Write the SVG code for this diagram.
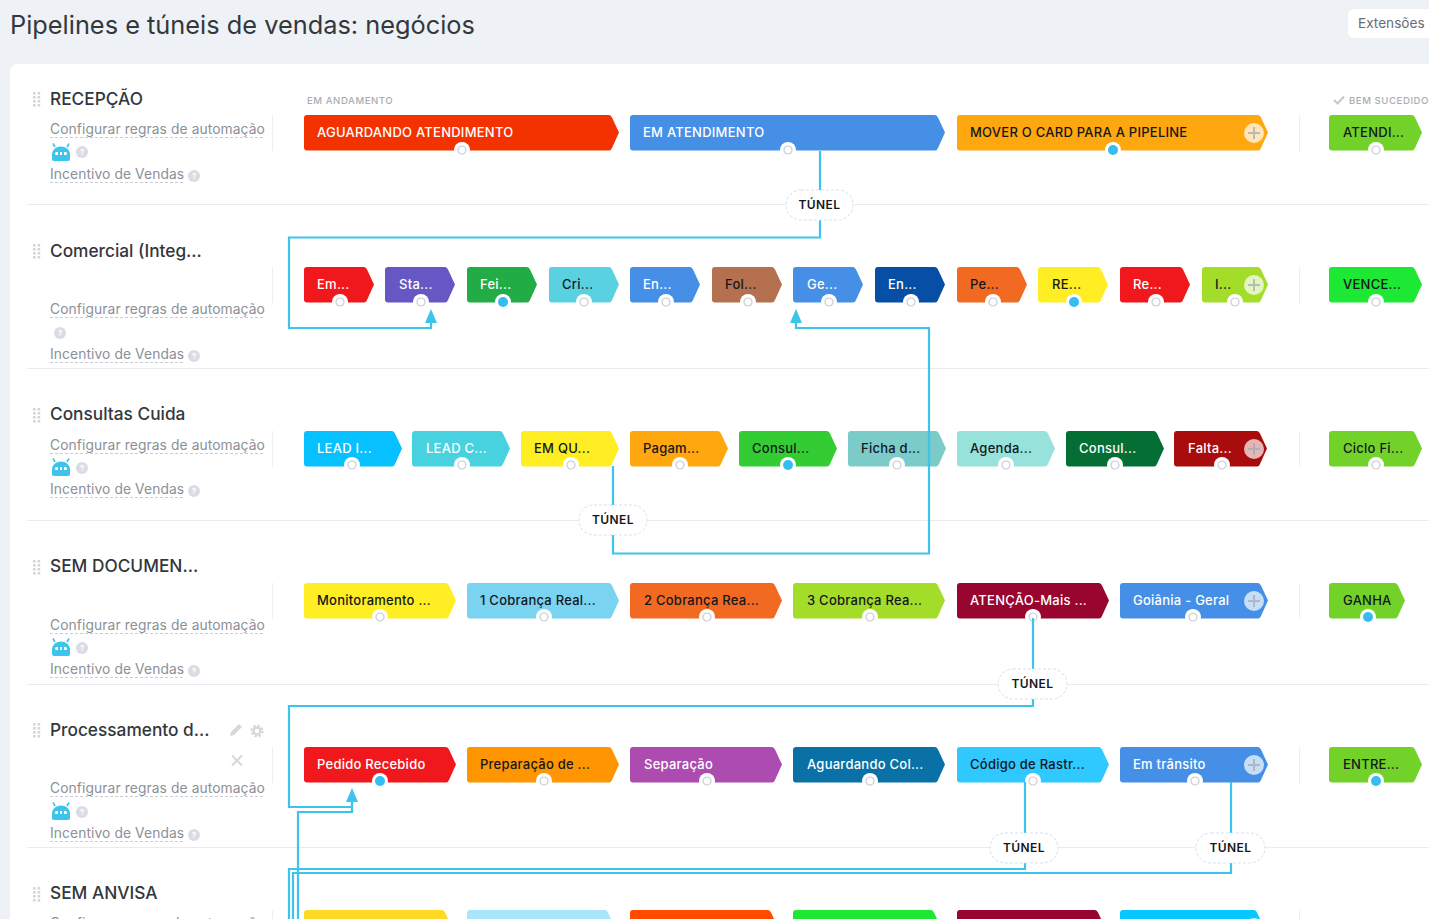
<svg xmlns="http://www.w3.org/2000/svg" width="1429" height="919" viewBox="0 0 1429 919">
<style>
text{font-family:Inter,"Noto Sans","Liberation Sans",sans-serif}
.h1{font-size:25.35px;fill:#33383d}
.t{font-size:17.3px;font-weight:500;fill:#33373c}
.l{font-size:13.8px;fill:#8b9097;letter-spacing:.1px}
.u{stroke:#c9ccd2;stroke-width:1;stroke-dasharray:3 2;fill:none}
.s{font-size:13px;font-weight:500;letter-spacing:.25px}
.w{fill:#fff}.d{fill:#14181c}
.hd{font-size:9.6px;font-weight:500;fill:#a9acb2;letter-spacing:.55px}
.sep{stroke:#e9ebee;stroke-width:1}
.v{stroke:#eceef0;stroke-width:1}
.c{fill:none;stroke:#3dc3ec;stroke-width:2.2}
.a{fill:#3dc3ec}
.p{fill:#fff;stroke:#cfe3ee;stroke-width:1;stroke-dasharray:3 2}
.pt{font-size:12px;font-weight:600;fill:#14181c;letter-spacing:.4px;text-anchor:middle}
.hq{font-size:8px;font-weight:700;fill:#fff;text-anchor:middle}
.g{fill:#d9dce3}
</style>
<defs>
<g id="drag" fill="#d3d6da"><rect x="0" y="0" width="2.6" height="2.6"/><rect x="4.6" y="0" width="2.6" height="2.6"/><rect x="0" y="4" width="2.6" height="2.6"/><rect x="4.6" y="4" width="2.6" height="2.6"/><rect x="0" y="8" width="2.6" height="2.6"/><rect x="4.6" y="8" width="2.6" height="2.6"/><rect x="0" y="12" width="2.6" height="2.6"/><rect x="4.6" y="12" width="2.6" height="2.6"/></g>
<g id="help"><circle r="6" class="g"/><text y="3" class="hq">?</text></g>
<g id="robot"><path d="M-9 7v-5a9 7.500 0 0 1 18 0v5a2 2 0 0 1-2 2h-14a2 2 0 0 1-2-2z" fill="#3dc3ec"/><path d="M-6-5l-2-3.500M6-5l2-3.500" stroke="#3dc3ec" stroke-width="1.600"/><rect x="-6" y="0" width="12" height="3" rx="1.500" fill="#fff"/><rect x="-3" y="0" width="2" height="3" fill="#3dc3ec"/><rect x="1" y="0" width="2" height="3" fill="#3dc3ec"/></g>
<g id="dot0"><circle r="8" fill="#fff"/><circle r="4" fill="#fff" stroke="#c9ccd6" stroke-width="1.200"/></g>
<g id="dot1"><circle r="8" fill="#fff"/><circle r="5" fill="#35bdf2"/></g>
<g id="plus"><circle r="10" fill="#fff" fill-opacity=".7"/><path d="M-6 0H6M0-6V6" stroke="#a6a9b3" stroke-opacity=".75" stroke-width="2"/></g>
<path id="w315" d="M3 0H305q2 0 3 2.500L315 17.500 308 33q-1 2.500-3 2.500H3a3 3 0 0 1-3-3V3a3 3 0 0 1 3-3z"/>
<path id="w311" d="M3 0H301q2 0 3 2.500L311 17.500 304 33q-1 2.500-3 2.500H3a3 3 0 0 1-3-3V3a3 3 0 0 1 3-3z"/>
<path id="w152" d="M3 0H142q2 0 3 2.500L152 17.500 145 33q-1 2.500-3 2.500H3a3 3 0 0 1-3-3V3a3 3 0 0 1 3-3z"/>
<path id="w148" d="M3 0H138q2 0 3 2.500L148 17.500 141 33q-1 2.500-3 2.500H3a3 3 0 0 1-3-3V3a3 3 0 0 1 3-3z"/>
<path id="w144" d="M3 0H134q2 0 3 2.500L144 17.500 137 33q-1 2.500-3 2.500H3a3 3 0 0 1-3-3V3a3 3 0 0 1 3-3z"/>
<path id="w98" d="M3 0H88q2 0 3 2.500L98 17.500 91 33q-1 2.500-3 2.500H3a3 3 0 0 1-3-3V3a3 3 0 0 1 3-3z"/>
<path id="w93" d="M3 0H83q2 0 3 2.500L93 17.500 86 33q-1 2.500-3 2.500H3a3 3 0 0 1-3-3V3a3 3 0 0 1 3-3z"/>
<path id="w76" d="M3 0H66q2 0 3 2.500L76 17.500 69 33q-1 2.500-3 2.500H3a3 3 0 0 1-3-3V3a3 3 0 0 1 3-3z"/>
<path id="w70" d="M3 0H60q2 0 3 2.500L70 17.500 63 33q-1 2.500-3 2.500H3a3 3 0 0 1-3-3V3a3 3 0 0 1 3-3z"/>
<path id="w66" d="M3 0H56q2 0 3 2.500L66 17.500 59 33q-1 2.500-3 2.500H3a3 3 0 0 1-3-3V3a3 3 0 0 1 3-3z"/>
</defs>
<rect width="1429" height="919" fill="#eef1f5"/>
<rect x="10" y="64" width="1440" height="900" rx="8" fill="#fff"/>
<text x="10" y="34" class="h1">Pipelines e túneis de vendas: negócios</text>
<g id="btn-extensoes"><rect x="1348" y="9" width="100" height="29" rx="6" fill="#fff"/><text x="1358" y="28" font-size="13.600" fill="#666d75">Extensões</text></g>
<text x="307" y="104" class="hd">EM ANDAMENTO</text>
<g id="hdr-won"><path d="M1334 100l3.500 3.500 6.500-7" fill="none" stroke="#c5c8cd" stroke-width="2"/><text x="1349" y="104" class="hd">BEM SUCEDIDO</text></g>

<g id="separators">
<path class="sep" d="M27 204.500H1429M27 368.500H1429M27 520.500H1429M27 684.500H1429M27 847.500H1429"/>
<path class="v" d="M272.500 115V151M272.500 267V303M272.500 431V467M272.500 583V619M272.500 747V783M272.500 910V919M1299.500 115V151M1299.500 267V303M1299.500 431V467M1299.500 583V619M1299.500 747V783M1299.500 910V919"/>
</g>

<g id="row-recepcao"><use href="#drag" x="33" y="92"/><text x="50" y="105" class="t">RECEPÇÃO</text><text x="50" y="134" class="l">Configurar regras de automação</text><path class="u" d="M50 137.500H265"/><use href="#robot" x="61" y="152"/><use href="#help" x="82" y="152"/><text x="50" y="179" class="l">Incentivo de Vendas</text><path class="u" d="M50 182.500H184"/><use href="#help" x="194" y="176"/></g>
<g id="row-comercial"><use href="#drag" x="33" y="244"/><text x="50" y="257" class="t">Comercial (Integ...</text><text x="50" y="314" class="l">Configurar regras de automação</text><path class="u" d="M50 317.500H265"/><use href="#help" x="60" y="333"/><text x="50" y="359" class="l">Incentivo de Vendas</text><path class="u" d="M50 362.500H184"/><use href="#help" x="194" y="356"/></g>
<g id="row-consultas"><use href="#drag" x="33" y="408"/><text x="50" y="420" class="t">Consultas Cuida</text><text x="50" y="450" class="l">Configurar regras de automação</text><path class="u" d="M50 453.500H265"/><use href="#robot" x="61" y="467"/><use href="#help" x="82" y="468"/><text x="50" y="494" class="l">Incentivo de Vendas</text><path class="u" d="M50 497.500H184"/><use href="#help" x="194" y="491"/></g>
<g id="row-semdoc"><use href="#drag" x="33" y="560"/><text x="50" y="572" class="t">SEM DOCUMEN...</text><text x="50" y="630" class="l">Configurar regras de automação</text><path class="u" d="M50 633.500H265"/><use href="#robot" x="61" y="647"/><use href="#help" x="82" y="648"/><text x="50" y="674" class="l">Incentivo de Vendas</text><path class="u" d="M50 677.500H184"/><use href="#help" x="194" y="671"/></g>
<g id="row-processamento"><use href="#drag" x="33" y="723"/><text x="50" y="736" class="t">Processamento d...</text><path d="M230 736l1-4 8-8 3 3-8 8z" fill="#d5d7db"/><circle cx="257" cy="731" r="3.500" fill="none" stroke="#d5d7db" stroke-width="2.500"/><circle cx="257" cy="731" r="5.500" fill="none" stroke="#d5d7db" stroke-width="2" stroke-dasharray="2.300 2"/><path d="M232 755.500l10 10M242 755.500l-10 10" stroke="#d5d7db" stroke-width="2"/><text x="50" y="793" class="l">Configurar regras de automação</text><path class="u" d="M50 796.500H265"/><use href="#robot" x="61" y="811"/><use href="#help" x="82" y="812"/><text x="50" y="838" class="l">Incentivo de Vendas</text><path class="u" d="M50 841.500H184"/><use href="#help" x="194" y="835"/></g>
<g id="row-semanvisa"><use href="#drag" x="33" y="887"/><text x="50" y="899" class="t">SEM ANVISA</text><text x="50" y="928" class="l">Configurar regras de automação</text></g>

<g id="s1-1"><use href="#w315" x="304" y="115" fill="#f43200"/><text x="317" y="137" class="s w">AGUARDANDO ATENDIMENTO</text><use href="#dot0" x="462" y="150"/></g>
<g id="s1-2"><use href="#w315" x="630" y="115" fill="#458fe6"/><text x="643" y="137" class="s w">EM ATENDIMENTO</text><use href="#dot0" x="788" y="150"/></g>
<g id="s1-3"><use href="#w311" x="957" y="115" fill="#ffa70f"/><text x="970" y="137" class="s d">MOVER O CARD PARA A PIPELINE</text><use href="#plus" x="1254" y="133"/><use href="#dot1" x="1113" y="150"/></g>
<g id="s1-4"><use href="#w93" x="1329" y="115" fill="#72d22a"/><text x="1343" y="137" class="s d">ATENDI...</text><use href="#dot0" x="1376" y="150"/></g>

<g id="s2-1"><use href="#w70" x="304" y="267" fill="#f0181c"/><text x="317" y="289" class="s w">Em...</text><use href="#dot0" x="340" y="302"/></g>
<g id="s2-2"><use href="#w70" x="385" y="267" fill="#6558c4"/><text x="399" y="289" class="s w">Sta...</text><use href="#dot0" x="421" y="302"/></g>
<g id="s2-3"><use href="#w70" x="467" y="267" fill="#22ac45"/><text x="480" y="289" class="s w">Fei...</text><use href="#dot1" x="503" y="302"/></g>
<g id="s2-4"><use href="#w70" x="549" y="267" fill="#5ad1e0"/><text x="562" y="289" class="s d">Cri...</text><use href="#dot0" x="584" y="302"/></g>
<g id="s2-5"><use href="#w70" x="630" y="267" fill="#458fe6"/><text x="643" y="289" class="s w">En...</text><use href="#dot0" x="666" y="302"/></g>
<g id="s2-6"><use href="#w70" x="712" y="267" fill="#b5714f"/><text x="725" y="289" class="s d">Fol...</text><use href="#dot0" x="748" y="302"/></g>
<g id="s2-7"><use href="#w70" x="793" y="267" fill="#458fe6"/><text x="807" y="289" class="s w">Ge...</text><use href="#dot0" x="829" y="302"/></g>
<g id="s2-8"><use href="#w70" x="875" y="267" fill="#064fa5"/><text x="888" y="289" class="s w">En...</text><use href="#dot0" x="911" y="302"/></g>
<g id="s2-9"><use href="#w70" x="957" y="267" fill="#f26a22"/><text x="970" y="289" class="s d">Pe...</text><use href="#dot0" x="993" y="302"/></g>
<g id="s2-10"><use href="#w70" x="1038" y="267" fill="#ffee24"/><text x="1052" y="289" class="s d">RE...</text><use href="#dot1" x="1074" y="302"/></g>
<g id="s2-11"><use href="#w70" x="1120" y="267" fill="#f0181c"/><text x="1133" y="289" class="s w">Re...</text><use href="#dot0" x="1156" y="302"/></g>
<g id="s2-12"><use href="#w66" x="1202" y="267" fill="#a4dc2a"/><text x="1215" y="289" class="s d">I...</text><use href="#plus" x="1254" y="285"/><use href="#dot0" x="1235" y="302"/></g>
<g id="s2-13"><use href="#w93" x="1329" y="267" fill="#1de833"/><text x="1343" y="289" class="s d">VENCE...</text><use href="#dot0" x="1376" y="302"/></g>

<g id="s3-1"><use href="#w98" x="304" y="431" fill="#06c0ff"/><text x="317" y="453" class="s w">LEAD I...</text><use href="#dot0" x="352" y="465"/></g>
<g id="s3-2"><use href="#w98" x="412" y="431" fill="#48d2e0"/><text x="426" y="453" class="s w">LEAD C...</text><use href="#dot0" x="462" y="465"/></g>
<g id="s3-3"><use href="#w98" x="521" y="431" fill="#ffee24"/><text x="534" y="453" class="s d">EM QU...</text><use href="#dot0" x="571" y="465"/></g>
<g id="s3-4"><use href="#w98" x="630" y="431" fill="#ffa70f"/><text x="643" y="453" class="s d">Pagam...</text><use href="#dot0" x="680" y="465"/></g>
<g id="s3-5"><use href="#w98" x="739" y="431" fill="#33cc33"/><text x="752" y="453" class="s d">Consul...</text><use href="#dot1" x="788" y="465"/></g>
<g id="s3-6"><use href="#w98" x="848" y="431" fill="#7bcbc8"/><text x="861" y="453" class="s d">Ficha d...</text><use href="#dot0" x="897" y="465"/></g>
<g id="s3-7"><use href="#w98" x="957" y="431" fill="#97e3dc"/><text x="970" y="453" class="s d">Agenda...</text><use href="#dot0" x="1006" y="465"/></g>
<g id="s3-8"><use href="#w98" x="1066" y="431" fill="#056e34"/><text x="1079" y="453" class="s w">Consul...</text><use href="#dot0" x="1115" y="465"/></g>
<g id="s3-9"><use href="#w93" x="1174" y="431" fill="#a80c0c"/><text x="1188" y="453" class="s w">Falta...</text><use href="#plus" x="1254" y="449"/><use href="#dot0" x="1222" y="465"/></g>
<g id="s3-10"><use href="#w93" x="1329" y="431" fill="#72d22a"/><text x="1343" y="453" class="s d">Ciclo Fi...</text><use href="#dot0" x="1376" y="465"/></g>

<g id="s4-1"><use href="#w152" x="304" y="583" fill="#ffee24"/><text x="317" y="605" class="s d">Monitoramento ...</text><use href="#dot0" x="380" y="617"/></g>
<g id="s4-2"><use href="#w152" x="467" y="583" fill="#7bd3f2"/><text x="480" y="605" class="s d">1 Cobrança Real...</text><use href="#dot0" x="544" y="617"/></g>
<g id="s4-3"><use href="#w152" x="630" y="583" fill="#f26a22"/><text x="644" y="605" class="s d">2 Cobrança Rea...</text><use href="#dot0" x="707" y="617"/></g>
<g id="s4-4"><use href="#w152" x="793" y="583" fill="#a4dc2a"/><text x="807" y="605" class="s d">3 Cobrança Rea...</text><use href="#dot0" x="870" y="617"/></g>
<g id="s4-5"><use href="#w152" x="957" y="583" fill="#98052f"/><text x="970" y="605" class="s w">ATENÇÃO-Mais ...</text><use href="#dot0" x="1033" y="617"/></g>
<g id="s4-6"><use href="#w148" x="1120" y="583" fill="#458fe6"/><text x="1133" y="605" class="s w">Goiânia - Geral</text><use href="#plus" x="1254" y="601"/><use href="#dot0" x="1193" y="617"/></g>
<g id="s4-7"><use href="#w76" x="1329" y="583" fill="#72d22a"/><text x="1343" y="605" class="s d">GANHA</text><use href="#dot1" x="1368" y="617"/></g>

<g id="s5-1"><use href="#w152" x="304" y="747" fill="#f0181c"/><text x="317" y="769" class="s w">Pedido Recebido</text><use href="#dot1" x="380" y="781"/></g>
<g id="s5-2"><use href="#w152" x="467" y="747" fill="#ff9500"/><text x="480" y="769" class="s d">Preparação de ...</text><use href="#dot0" x="544" y="781"/></g>
<g id="s5-3"><use href="#w152" x="630" y="747" fill="#ad4cb0"/><text x="644" y="769" class="s w">Separação</text><use href="#dot0" x="707" y="781"/></g>
<g id="s5-4"><use href="#w152" x="793" y="747" fill="#0971a6"/><text x="807" y="769" class="s w">Aguardando Col...</text><use href="#dot0" x="870" y="781"/></g>
<g id="s5-5"><use href="#w152" x="957" y="747" fill="#2fc8ff"/><text x="970" y="769" class="s d">Código de Rastr...</text><use href="#dot0" x="1033" y="781"/></g>
<g id="s5-6"><use href="#w148" x="1120" y="747" fill="#458fe6"/><text x="1133" y="769" class="s w">Em trânsito</text><use href="#plus" x="1254" y="765"/><use href="#dot0" x="1195" y="781"/></g>
<g id="s5-7"><use href="#w93" x="1329" y="747" fill="#72d22a"/><text x="1343" y="769" class="s d">ENTRE...</text><use href="#dot1" x="1376" y="781"/></g>

<g id="s6-1"><use href="#w148" x="304" y="910" fill="#ffd924"/></g>
<g id="s6-2"><use href="#w148" x="467" y="910" fill="#a9e6fa"/></g>
<g id="s6-3"><use href="#w148" x="630" y="910" fill="#ff4a00"/></g>
<g id="s6-4"><use href="#w148" x="793" y="910" fill="#1de833"/></g>
<g id="s6-5"><use href="#w148" x="957" y="910" fill="#98052f"/></g>
<g id="s6-6"><use href="#w144" x="1120" y="910" fill="#06c8ff"/><use href="#plus" x="1254" y="928"/></g>

<g id="connectors">
<path class="c" d="M820 151V237.500H289V328H431V318"/>
<path class="a" d="M431 309l6 14h-12z"/>
<path class="c" d="M613 466V553.500H929V328H796V318"/>
<path class="a" d="M796 309l6 14h-12z"/>
<path class="c" d="M1033 618V706H289V807H352V797"/>
<path class="c" d="M298 919V812H352V797"/>
<path class="a" d="M352 788l6 14h-12z"/>
<path class="c" d="M1025 782V869H289V919"/>
<path class="c" d="M1231 782V873H293V919"/>
</g>

<g id="tunnels">
<g id="t1"><rect class="p" x="786" y="190" width="67" height="30" rx="15"/><text x="819.500" y="209" class="pt">TÚNEL</text></g>
<g id="t2"><rect class="p" x="579" y="505" width="68" height="30" rx="15"/><text x="613" y="524" class="pt">TÚNEL</text></g>
<g id="t3"><rect class="p" x="998" y="669" width="69" height="30" rx="15"/><text x="1032.500" y="688" class="pt">TÚNEL</text></g>
<g id="t4"><rect class="p" x="990" y="833" width="68" height="30" rx="15"/><text x="1024" y="852" class="pt">TÚNEL</text></g>
<g id="t5"><rect class="p" x="1196" y="833" width="69" height="30" rx="15"/><text x="1230.500" y="852" class="pt">TÚNEL</text></g>
</g>
</svg>
